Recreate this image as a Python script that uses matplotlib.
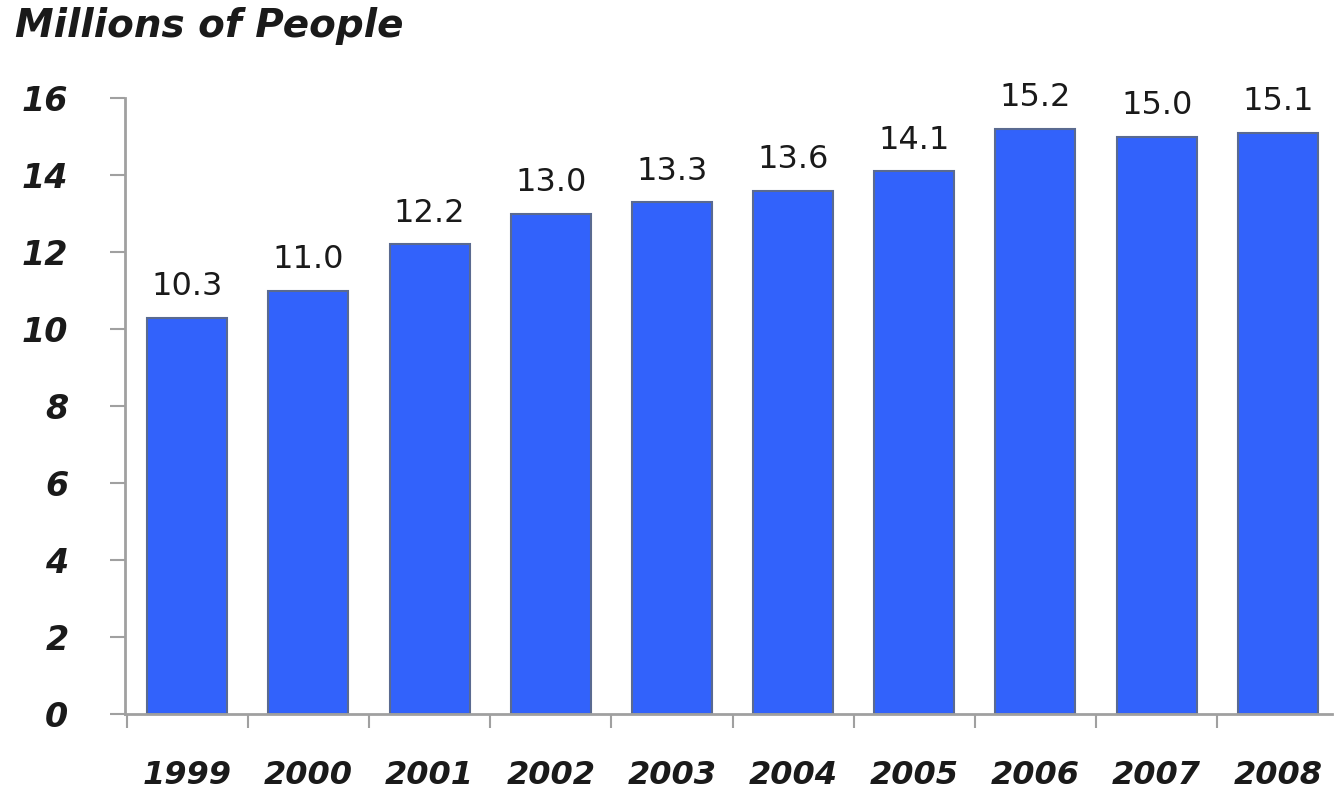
import numpy as np
import matplotlib
matplotlib.use('Agg')
import matplotlib.pyplot as plt

years = ['1999', '2000', '2001', '2002', '2003', '2004', '2005', '2006', '2007', '2008']
people = [10.3, 11.0, 12.2, 13.0, 13.3, 13.6, 14.1, 15.2, 15.0, 15.1]
y_ticks = [0, 2, 4, 6, 8, 10, 12, 14, 16]

fig = plt.figure(figsize=(13.35, 7.91), dpi=100)
ax = fig.add_axes([0.094, 0.097, 0.904, 0.779])

x = np.arange(len(years))
ax.bar(x, people, width=0.66, color='#3262fb', edgecolor='#5a6a90', linewidth=1.5, zorder=2)

# value labels above the bars
for xi, v in zip(x, people):
    ax.text(xi, v + 0.4, f'{v:.1f}', ha='center', va='bottom',
            fontsize=23, family='DejaVu Sans', color='#1a1a1a')

ax.set_xlim(-0.51, 9.45)
ax.set_ylim(0, 16)
ax.set_yticks(y_ticks)
ax.set_yticklabels([str(t) for t in y_ticks], fontsize=24, fontweight='bold',
                   fontstyle='italic', color='#1a1a1a')
ax.tick_params(axis='y', direction='out', length=11, width=1.5, color='#a0a0a0', pad=30)

ax.set_xticks(x)
ax.set_xticklabels(years, fontsize=23, fontweight='bold', fontstyle='italic', color='#1a1a1a')
ax.tick_params(axis='x', which='major', length=0, pad=33)
ax.set_xticks(np.arange(-0.5, 9.0, 1.0), minor=True)
ax.tick_params(axis='x', which='minor', direction='out', length=10, width=1.5, color='#a0a0a0')

for side in ['top', 'right']:
    ax.spines[side].set_visible(False)
for side in ['left', 'bottom']:
    ax.spines[side].set_color('#a0a0a0')
    ax.spines[side].set_linewidth(2)

fig.text(0.011, 0.967, 'Millions of People', fontsize=28, fontweight='bold',
         fontstyle='italic', color='#1a1a1a', ha='left', va='center')

fig.savefig('out.png', dpi=100)
